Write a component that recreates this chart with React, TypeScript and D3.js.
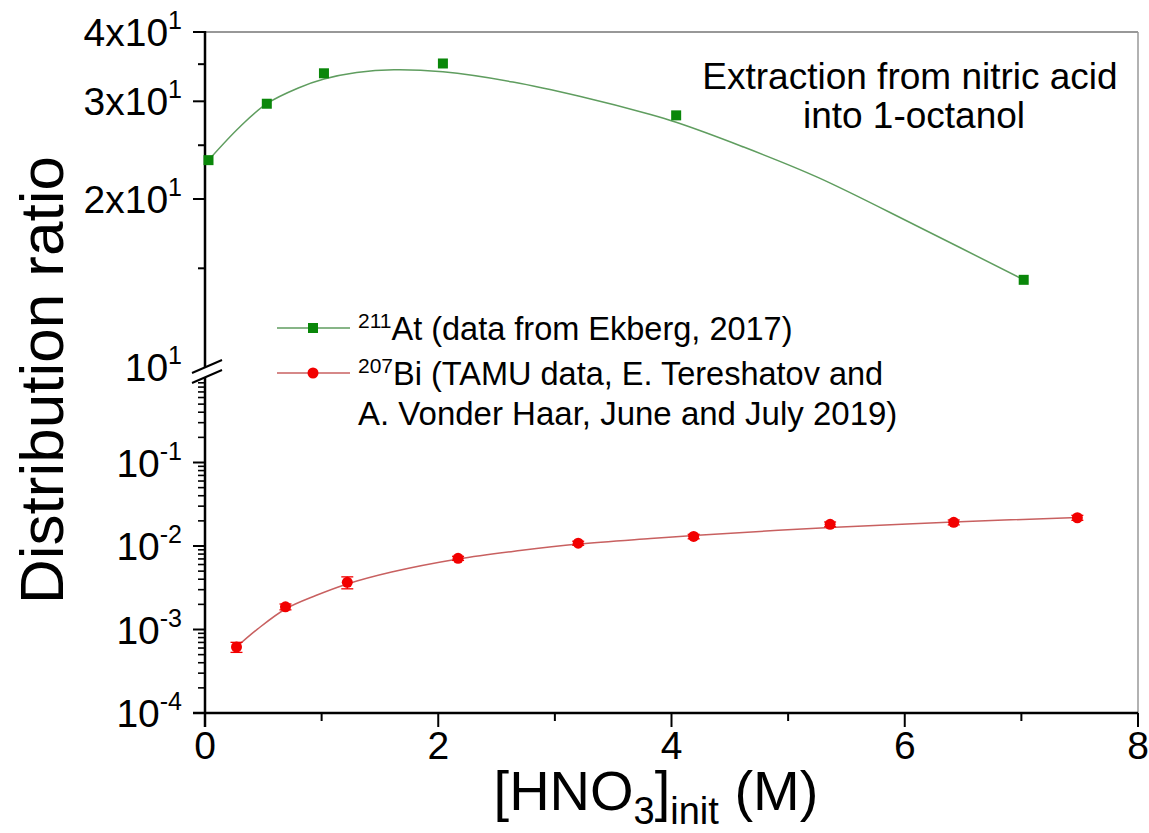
import { useEffect, useRef } from 'react';
import * as d3 from 'd3';

// 211At, data from Ekberg 2017 (upper axis segment)
const atX = [0.03, 0.53, 1.02, 2.04, 4.04, 7.02];
const atD = [23.5, 29.7, 33.7, 35.1, 28.3, 14.3];
// fitted curve for At
const atFitX = [0.03, 0.3, 0.53, 0.8, 1.02, 1.3, 1.62, 2.04, 2.64, 3.22, 3.82, 4.04, 4.6, 5.25, 6.1, 7.02];
const atFitD = [23.5, 27.0, 29.7, 31.7, 32.9, 33.8, 34.2, 33.9, 32.5, 30.6, 28.4, 27.5, 24.9, 21.9, 17.9, 14.3];

// 207Bi, TAMU data (lower axis segment)
const biX = [0.27, 0.69, 1.22, 2.17, 3.2, 4.19, 5.36, 6.42, 7.48];
const biD = [6.17e-4, 1.87e-3, 3.67e-3, 7.12e-3, 1.08e-2, 1.3e-2, 1.82e-2, 1.92e-2, 2.18e-2];
const biErr = [0.85e-4, 1.5e-4, 0.6e-3, 4e-4, 6e-4, 8e-4, 1.2e-3, 1.3e-3, 1.5e-3];
// fitted curve for Bi
const biFitX = [0.27, 0.45, 0.69, 0.95, 1.22, 1.6, 2.17, 2.7, 3.2, 3.82, 4.19, 5.36, 6.42, 7.48];
const biFitD = [6.17e-4, 1.01e-3, 1.76e-3, 2.55e-3, 3.51e-3, 4.88e-3, 6.99e-3, 8.83e-3, 1.057e-2, 1.23e-2, 1.336e-2, 1.666e-2, 1.939e-2, 2.194e-2];

const xTicks = [0, 2, 4, 6, 8];
const xMinor = [1, 3, 5, 7];
const upperTicks = [{ v: 40, m: '4x10', e: '1' }, { v: 30, m: '3x10', e: '1' }, { v: 20, m: '2x10', e: '1' }];
const upperMinor = [35, 25, 15];
const lowerTicks = [{ v: 1e-1, e: '-1' }, { v: 1e-2, e: '-2' }, { v: 1e-3, e: '-3' }, { v: 1e-4, e: '-4' }];

const GREEN = '#0a870a';
const GREEN_LINE = '#5f9d5f';
const RED = '#f20000';
const RED_LINE = '#c86060';
const FONT = '"Liberation Sans", Arial, sans-serif';

export default function App() {
  const svgRef = useRef<SVGSVGElement>(null);

  useEffect(() => {
    const svg = d3.select(svgRef.current);
    svg.selectAll('*').remove();

    const width = 1149;
    const height = 833;
    const left = 205, right = 1138, top = 32, bottom = 713;

    svg.attr('width', width).attr('height', height).style('font-family', FONT);

    const x = d3.scaleLinear().domain([0, 8]).range([left, right]);
    const yTop = d3.scaleLog().domain([10, 40]).range([366, top]);
    const yBot = d3.scaleLog().domain([1e-4, 1]).range([bottom, 379]);

    // frame
    svg.append('line').attr('x1', left).attr('x2', right).attr('y1', top).attr('y2', top)
      .attr('stroke', '#333').attr('stroke-width', 1.2);
    svg.append('line').attr('x1', right).attr('x2', right).attr('y1', top).attr('y2', bottom)
      .attr('stroke', '#999').attr('stroke-width', 1.5);

    // axes lines
    svg.append('line').attr('x1', left).attr('x2', left).attr('y1', top - 1).attr('y2', bottom + 14)
      .attr('stroke', '#000').attr('stroke-width', 2.5);
    svg.append('line').attr('x1', left - 12).attr('x2', right).attr('y1', bottom).attr('y2', bottom)
      .attr('stroke', '#000').attr('stroke-width', 2.5);

    // x ticks
    xTicks.forEach(t => {
      svg.append('line').attr('x1', x(t)).attr('x2', x(t)).attr('y1', bottom).attr('y2', bottom + 14)
        .attr('stroke', '#000').attr('stroke-width', 2);
      svg.append('text').attr('x', x(t)).attr('y', bottom + 46).attr('text-anchor', 'middle')
        .style('font-size', '39px').text(t);
    });
    xMinor.forEach(t => {
      svg.append('line').attr('x1', x(t)).attr('x2', x(t)).attr('y1', bottom).attr('y2', bottom + 8)
        .attr('stroke', '#000').attr('stroke-width', 2);
    });

    // upper y ticks
    upperTicks.forEach(t => {
      svg.append('line').attr('x1', left - 12).attr('x2', left).attr('y1', yTop(t.v)).attr('y2', yTop(t.v))
        .attr('stroke', '#000').attr('stroke-width', 2);
      const txt = svg.append('text').attr('x', 182).attr('y', yTop(t.v) + 14).attr('text-anchor', 'end')
        .style('font-size', '39px');
      txt.append('tspan').text(t.m);
      txt.append('tspan').attr('dy', -17).style('font-size', '25px').text(t.e);
    });
    upperMinor.forEach(v => {
      svg.append('line').attr('x1', left - 7).attr('x2', left).attr('y1', yTop(v)).attr('y2', yTop(v))
        .attr('stroke', '#000').attr('stroke-width', 2);
    });
    const t10 = svg.append('text').attr('x', 182).attr('y', 381).attr('text-anchor', 'end').style('font-size', '39px');
    t10.append('tspan').text('10');
    t10.append('tspan').attr('dy', -17).style('font-size', '25px').text('1');

    // lower y ticks
    lowerTicks.forEach(t => {
      svg.append('line').attr('x1', left - 12).attr('x2', left).attr('y1', yBot(t.v)).attr('y2', yBot(t.v))
        .attr('stroke', '#000').attr('stroke-width', 2);
      const txt = svg.append('text').attr('x', 182).attr('y', yBot(t.v) + 14).attr('text-anchor', 'end')
        .style('font-size', '39px');
      txt.append('tspan').text('10');
      txt.append('tspan').attr('dy', -17).style('font-size', '25px').text(t.e);
    });
    for (let e = -4; e < 0; e++) {
      for (let k = 2; k <= 9; k++) {
        const v = k * Math.pow(10, e);
        svg.append('line').attr('x1', left - 7).attr('x2', left).attr('y1', yBot(v)).attr('y2', yBot(v))
          .attr('stroke', '#000').attr('stroke-width', 1.6);
      }
    }

    // axis break
    svg.append('rect').attr('x', left - 4).attr('y', 367).attr('width', 8).attr('height', 10).attr('fill', '#fff');
    [367, 377].forEach(yb => {
      svg.append('line').attr('x1', left - 13).attr('x2', left + 17).attr('y1', yb + 6).attr('y2', yb - 7)
        .attr('stroke', '#000').attr('stroke-width', 2);
    });

    // At fit + points
    const lineAt = d3.line<number>()
      .x((_, i) => x(atFitX[i]))
      .y(d => yTop(d))
      .curve(d3.curveCatmullRom.alpha(0.5));
    svg.append('path').attr('d', lineAt(atFitD)).attr('fill', 'none')
      .attr('stroke', GREEN_LINE).attr('stroke-width', 1.5);
    svg.selectAll('.at').data(atD).join('rect').attr('class', 'at')
      .attr('x', (_, i) => x(atX[i]) - 5).attr('y', d => yTop(d) - 5)
      .attr('width', 10).attr('height', 10).attr('fill', GREEN);

    // Bi fit + error bars + points
    const lineBi = d3.line<number>()
      .x((_, i) => x(biFitX[i]))
      .y(d => yBot(d))
      .curve(d3.curveCatmullRom.alpha(0.5));
    svg.append('path').attr('d', lineBi(biFitD)).attr('fill', 'none')
      .attr('stroke', RED_LINE).attr('stroke-width', 1.5);
    biD.forEach((d, i) => {
      const cx = x(biX[i]);
      const y1 = yBot(d - biErr[i]);
      const y2 = yBot(d + biErr[i]);
      svg.append('line').attr('x1', cx).attr('x2', cx).attr('y1', y1).attr('y2', y2)
        .attr('stroke', RED).attr('stroke-width', 1.3);
      [y1, y2].forEach(yy => {
        svg.append('line').attr('x1', cx - 6).attr('x2', cx + 6).attr('y1', yy).attr('y2', yy)
          .attr('stroke', RED).attr('stroke-width', 1.3);
      });
    });
    svg.selectAll('.bi').data(biD).join('circle').attr('class', 'bi')
      .attr('cx', (_, i) => x(biX[i])).attr('cy', d => yBot(d)).attr('r', 5.5).attr('fill', RED);

    // legend
    const lg = [
      { y: 328, color: GREEN, line: GREEN_LINE, shape: 'square', sup: '211', lines: ['At (data from Ekberg, 2017)'] },
      { y: 373, color: RED, line: RED_LINE, shape: 'circle', sup: '207', lines: ['Bi (TAMU data, E. Tereshatov and', 'A. Vonder Haar, June and July 2019)'] }
    ];
    lg.forEach(item => {
      svg.append('line').attr('x1', 277).attr('x2', 350).attr('y1', item.y).attr('y2', item.y)
        .attr('stroke', item.line).attr('stroke-width', 1.5);
      if (item.shape === 'square') {
        svg.append('rect').attr('x', 313 - 5).attr('y', item.y - 5).attr('width', 10).attr('height', 10).attr('fill', item.color);
      } else {
        svg.append('circle').attr('cx', 313).attr('cy', item.y).attr('r', 5.5).attr('fill', item.color);
      }
      const txt = svg.append('text').attr('x', 358).attr('y', item.y + 12).style('font-size', '32.5px');
      txt.append('tspan').attr('dy', -12).style('font-size', '21px').text(item.sup);
      txt.append('tspan').attr('dy', 12).text(item.lines[0]);
      if (item.lines[1]) {
        svg.append('text').attr('x', 358).attr('y', item.y + 52).style('font-size', '33px').text(item.lines[1]);
      }
    });

    // annotation
    svg.append('text').attr('x', 910).attr('y', 89).attr('text-anchor', 'middle')
      .style('font-size', '37px').text('Extraction from nitric acid');
    svg.append('text').attr('x', 914).attr('y', 128).attr('text-anchor', 'middle')
      .style('font-size', '37px').text('into 1-octanol');

    // axis titles
    svg.append('text').attr('transform', 'translate(63,380) rotate(-90)').attr('text-anchor', 'middle')
      .style('font-size', '62px').text('Distribution ratio');

    const xt = svg.append('text').attr('x', 656).attr('y', 810).attr('text-anchor', 'middle').style('font-size', '56px');
    xt.append('tspan').text('[HNO');
    xt.append('tspan').attr('dy', 14).style('font-size', '38px').text('3');
    xt.append('tspan').attr('dy', -14).text(']');
    xt.append('tspan').attr('dy', 14).style('font-size', '38px').text('init');
    xt.append('tspan').attr('dy', -14).text(' (M)');
  }, []);

  return <svg ref={svgRef} style={{ position: 'absolute', left: 0, top: 0, background: '#fff' }}></svg>;
}
